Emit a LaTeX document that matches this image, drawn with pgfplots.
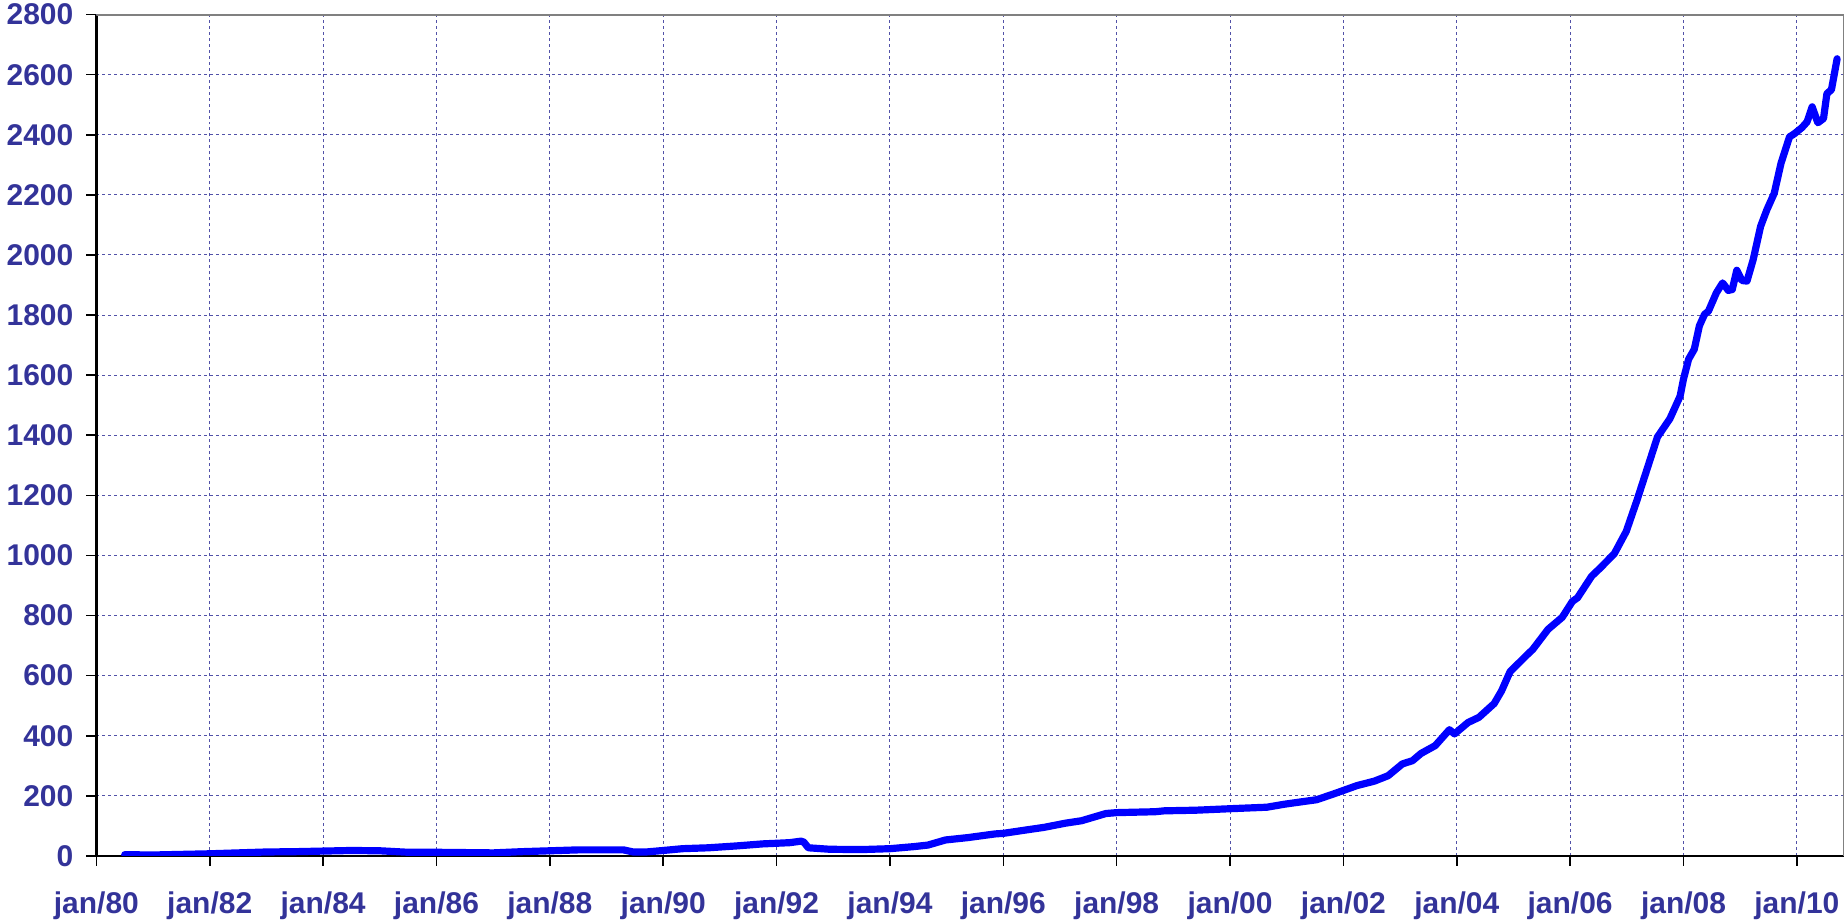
\documentclass[border=0pt]{standalone}
\usepackage{fontspec}
\setmainfont{Liberation Sans}
\usepackage{pgfplots}
\usepackage{pgfplotstable}
\pgfplotsset{compat=1.18}

\definecolor{labblue}{RGB}{51,51,153}
\definecolor{linblue}{RGB}{0,0,255}

\pgfplotstableread{
year value
1980.50 4
1981.00 3
1981.50 5
1982.00 7
1982.50 10
1983.00 13
1983.50 14
1984.00 16
1984.50 18
1985.00 17
1985.50 12
1986.00 12
1986.50 11
1987.00 10
1987.50 14
1988.00 17
1988.50 20
1988.92 20
1989.30 20
1989.47 13
1989.70 13
1990.00 18
1990.34 24
1990.80 27
1991.28 33
1991.76 40
1992.00 42
1992.23 44
1992.43 49
1992.48 46
1992.56 27
1992.94 22
1993.50 21
1994.00 24
1994.43 31
1994.67 36
1994.98 53
1995.38 61
1995.85 73
1996.00 75
1996.32 84
1996.72 95
1997.10 109
1997.38 117
1997.81 141
1998.00 144
1998.68 147
1998.84 150
1999.39 152
2000.00 157
2000.65 162
2000.96 172
2001.26 180
2001.53 187
2001.87 209
2002.24 234
2002.55 249
2002.79 267
2003.04 306
2003.22 317
2003.37 341
2003.62 367
2003.87 420
2003.96 406
2004.20 444
2004.39 461
2004.66 507
2004.79 549
2004.94 613
2005.25 671
2005.34 687
2005.61 754
2005.86 794
2006.04 847
2006.13 859
2006.38 931
2006.53 958
2006.78 1006
2006.99 1080
2007.18 1184
2007.36 1289
2007.54 1394
2007.76 1455
2007.94 1530
2008.00 1587
2008.09 1653
2008.19 1686
2008.28 1764
2008.37 1802
2008.44 1813
2008.58 1874
2008.69 1907
2008.79 1882
2008.86 1885
2008.94 1949
2009.03 1915
2009.12 1913
2009.23 1985
2009.36 2095
2009.47 2150
2009.60 2205
2009.72 2305
2009.87 2393
2009.96 2404
2010.09 2424
2010.18 2443
2010.27 2493
2010.37 2440
2010.47 2454
2010.53 2537
2010.61 2550
2010.71 2653
}\datatable

\begin{document}
\begin{tikzpicture}
\begin{axis}[
scale only axis,
width=874.5pt,
height=421pt,
xmin=1980, xmax=2010.83,
ymin=0, ymax=2800,
axis x line*=bottom,
axis y line*=left,
axis line style={black, line width=1.3pt},
xtick={1980,1982,...,2010},
xticklabels={jan/80,jan/82,jan/84,jan/86,jan/88,jan/90,jan/92,jan/94,jan/96,jan/98,jan/00,jan/02,jan/04,jan/06,jan/08,jan/10},
ytick={0,200,...,2800},
scaled y ticks=false,
/pgf/number format/1000 sep={},
/pgf/number format/assume math mode=true,
tick align=outside,
major tick length=5pt,
tick style={black, line width=0.8pt},
ticklabel style={font=\bfseries\fontsize{15}{17}\selectfont, text=labblue},
x tick label style={inner ysep=0pt, yshift=-13pt},
y tick label style={inner ysep=2pt, xshift=-3pt},
grid=major,
major grid style={labblue!85, line width=0.5pt, dash pattern=on 1.5pt off 1.5pt},
]
\addplot[linblue, line width=3.6pt, line join=round, line cap=round] table[x=year, y=value] {\datatable};
\draw[gray, line width=1.2pt] (rel axis cs:0,1) -- (rel axis cs:1,1) -- (rel axis cs:1,0);
\end{axis}
\end{tikzpicture}
\end{document}
